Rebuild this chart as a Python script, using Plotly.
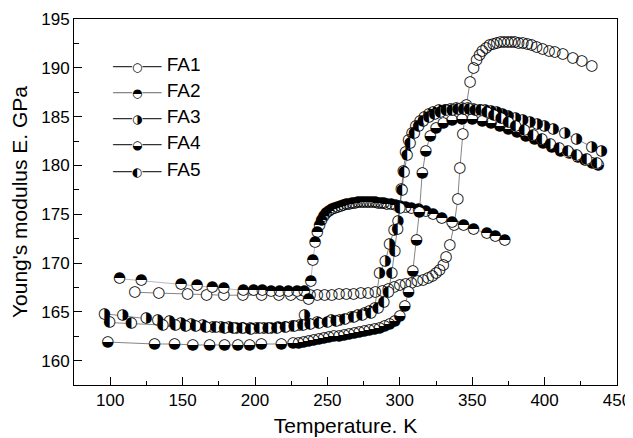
import plotly.graph_objects as go

# ---------------- data ----------------
names = ["FA1", "FA2", "FA3", "FA4", "FA5"]
glyphs = ["\u25CB", "\u25D3", "\u25D1", "\u25D2", "\u25D0"]

t_fa1 = [117, 133.5, 153.5, 166.6, 178.4, 191.5, 204.6, 216.4, 224.7, 232, 238, 243, 248, 253, 258,
         263, 268, 273, 278, 283, 288, 292, 296, 300, 304, 308, 312, 316, 319.5, 322.5, 325, 327.5,
         330, 332, 334.5, 337.5, 340, 341.5, 343.5, 346, 348.5, 351, 353, 355, 357, 359.5, 362,
         364.5, 367, 369.5, 372, 374.5, 377, 379.5, 382, 385, 388, 391, 394.5, 398.5, 403, 407,
         412.5, 419.5, 425.7, 432.6]
e_fa1 = [167.0, 166.9, 166.8, 166.7, 166.7, 166.7, 166.7, 166.7, 166.7, 166.7, 166.7, 166.7, 166.7,
         166.7, 166.8, 166.8, 166.8, 166.9, 166.9, 167.0, 167.1, 167.3, 167.5, 167.7, 167.8, 167.9,
         168.1, 168.2, 168.4, 168.6, 168.9, 169.3, 169.8, 170.6, 171.8, 173.9, 176.5, 179.7, 183.2,
         186.2, 188.5, 190.0, 190.8, 191.3, 191.7, 192.0, 192.3, 192.4, 192.5, 192.6, 192.6, 192.6,
         192.6, 192.6, 192.5, 192.5, 192.4, 192.3, 192.1, 191.9, 191.7, 191.6, 191.4, 191.0, 190.7,
         190.2]

t_fa2 = [106.5, 121.5, 149, 160, 170.5, 178.5, 192, 199, 205, 211, 217, 223, 229, 234, 237, 238.5,
         240, 241.5, 243, 244.5, 246, 247.5, 249, 251, 253, 255, 257, 259, 261, 263, 265, 267, 269,
         271, 273, 275, 277, 279, 281, 283, 285, 287, 289, 291, 294, 297, 300, 304, 308, 313, 318,
         323, 329, 336, 344, 351, 360, 366, 372.5]
e_fa2 = [168.4, 168.2, 167.8, 167.7, 167.5, 167.4, 167.2, 167.2, 167.2, 167.1, 167.1, 167.1, 167.1,
         167.1, 166.3, 168.1, 170.3, 172.1, 173.1, 173.9, 174.4, 174.8, 175.1, 175.3, 175.5, 175.6,
         175.7, 175.8, 175.9, 176.0, 176.0, 176.1, 176.1, 176.2, 176.2, 176.2, 176.2, 176.2, 176.2,
         176.2, 176.1, 176.1, 176.1, 176.0, 176.0, 175.9, 175.8, 175.7, 175.6, 175.5, 175.3, 175.0,
         174.6, 174.2, 173.9, 173.5, 173.0, 172.7, 172.3]

t_fa3 = [96.1, 108.7, 124.9, 132.9, 141, 149, 156, 164, 170.9, 176.7, 182, 187, 192, 197, 201, 206,
         211, 216, 221, 226, 231, 234.3, 243, 252.7, 258.5, 266.5, 271, 275.7, 279, 282.7, 286, 290,
         293, 296, 298.8, 301, 302.5, 304, 306, 308.5, 311, 314, 317, 320, 323, 327, 331, 335, 339,
         343, 347, 351, 355, 359, 363, 367, 371, 375, 380, 385, 390, 395, 400, 406, 414, 422, 432.6,
         439.3]
e_fa3 = [164.8, 164.6, 164.3, 164.1, 164.0, 163.8, 163.7, 163.6, 163.4, 163.4, 163.4, 163.3, 163.3,
         163.3, 163.3, 163.3, 163.3, 163.4, 163.4, 163.5, 163.6, 164.6, 163.9, 164.1, 164.1, 164.4,
         164.6, 164.9, 165.1, 165.4, 168.9, 170.2, 171.9, 173.4, 174.3, 177.6, 179.4, 181.3, 182.6,
         183.3, 184.0, 184.5, 184.9, 185.2, 185.4, 185.6, 185.7, 185.8, 185.9, 185.9, 185.9, 185.8,
         185.7, 185.6, 185.5, 185.4, 185.2, 185.0, 184.8, 184.6, 184.4, 184.2, 184.0, 183.7, 183.3,
         182.7, 181.9, 181.5]

t_fa4 = [98.3, 130.6, 144.4, 157.1, 168.6, 179, 188.2, 196.3, 204.4, 218.2, 226.2, 230, 233.5, 237,
         240.5, 244, 247.5, 251, 254.5, 258, 261.5, 265, 268.5, 272, 275.5, 279, 282.5, 286, 289.5,
         293, 296.5, 300, 303.5, 306, 309, 311.5, 313.5, 315.5, 318, 321, 325, 330, 336, 343, 350,
         357, 363, 369, 375, 381, 387, 393, 399, 405, 411, 417, 423, 428, 433, 437]
e_fa4 = [161.9, 161.7, 161.7, 161.6, 161.6, 161.6, 161.6, 161.6, 161.7, 161.7, 161.8, 161.8, 161.9,
         162.0, 162.1, 162.2, 162.3, 162.4, 162.5, 162.5, 162.6, 162.7, 162.8, 162.9, 163.0, 163.1,
         163.2, 163.3, 163.5, 163.7, 164.0, 164.5, 165.6, 167.0, 169.2, 172.3, 175.2, 179.2, 181.5,
         183.0, 183.8, 184.3, 184.6, 184.7, 184.7, 184.5, 184.3, 184.0, 183.7, 183.4, 183.0, 182.7,
         182.3, 181.9, 181.5, 181.2, 180.8, 180.5, 180.2, 180.0]

t_fa5 = [99.5, 114.5, 136.4, 145, 152, 159, 166, 173, 179, 185, 191, 197, 203, 209, 215, 221, 227,
         233, 238, 244, 250, 256, 262, 268, 274, 280, 285, 289, 292, 294.5, 296.5, 298.5, 300, 301.5,
         303, 305, 307, 310, 313, 316, 320, 324, 328, 332, 336, 340, 344, 348, 352, 356, 360, 365,
         370, 375, 380, 386, 392, 398, 404, 410, 416, 422, 429, 436]
e_fa5 = [163.9, 163.8, 163.6, 163.6, 163.5, 163.5, 163.4, 163.4, 163.3, 163.3, 163.3, 163.2, 163.3,
         163.3, 163.3, 163.4, 163.5, 163.6, 163.7, 163.8, 163.9, 164.0, 164.2, 164.4, 164.6, 164.9,
         165.4, 166.0, 167.0, 169.0, 171.2, 173.5, 175.6, 177.5, 179.3, 181.0, 182.3, 183.3, 184.0,
         184.5, 184.9, 185.2, 185.4, 185.6, 185.7, 185.8, 185.8, 185.8, 185.7, 185.6, 185.4, 185.1,
         184.8, 184.4, 184.0, 183.6, 183.1, 182.7, 182.2, 181.8, 181.4, 181.0, 180.6, 180.2]

x_ticks = [100, 150, 200, 250, 300, 350, 400, 450]
y_ticks = [160, 165, 170, 175, 180, 185, 190, 195]

series_t = [t_fa1, t_fa2, t_fa3, t_fa4, t_fa5]
series_e = [e_fa1, e_fa2, e_fa3, e_fa4, e_fa5]
line_colors = ["#333333", "#888888", "#333333", "#333333", "#333333"]

fig = go.Figure()
for name, g, tt, ee, lc in zip(names, glyphs, series_t, series_e, line_colors):
    fig.add_trace(go.Scatter(
        x=tt, y=ee, name=name, mode="lines+markers+text",
        text=[g] * len(tt), textposition="middle center",
        textfont=dict(family="DejaVu Sans", size=15, color="black"),
        marker=dict(color="white", size=11, line=dict(width=0)),
        line=dict(color=lc, width=0.6),
        showlegend=False, hoverinfo="skip",
    ))

# legend (built as text entries)
leg_y0 = 0.876
leg_dy = 0.0715
for i, (name, g, lc) in enumerate(zip(names, glyphs, line_colors)):
    fig.add_annotation(
        xref="paper", yref="paper", x=0.068, y=leg_y0 - i * leg_dy,
        xanchor="left", yanchor="middle", showarrow=False,
        text=(f"<span style='color:{lc}'>\u2014</span>"
              f"<span style='font-family:DejaVu Sans;font-size:12px'>{g}</span>"
              f"<span style='color:{lc}'>\u2014</span> {name}"),
        font=dict(family="Liberation Sans, Arial", size=19, color="black"),
    )

axis_common = dict(
    showline=True, linecolor="black", linewidth=1, mirror=True,
    ticks="inside", ticklen=8, tickwidth=1, tickcolor="black",
    showgrid=False, zeroline=False,
    tickfont=dict(family="Liberation Sans, Arial", size=17, color="black"),
)
fig.update_xaxes(
    range=[75, 450], tickvals=x_ticks, ticktext=[str(v) for v in x_ticks],
    minor=dict(ticks="inside", ticklen=4, tickwidth=1, tickcolor="black", dtick=25, tick0=75),
    title=dict(text="Temperature. K", font=dict(family="Liberation Sans, Arial", size=21, color="black"),
               standoff=8),
    **axis_common,
)
fig.update_yaxes(
    range=[157.5, 195], tickvals=y_ticks, ticktext=[str(v) for v in y_ticks],
    minor=dict(ticks="inside", ticklen=5, tickwidth=1, tickcolor="black", dtick=2.5, tick0=157.5),
    title=dict(text="Young's modulus E. GPa", font=dict(family="Liberation Sans, Arial", size=21, color="black"),
               standoff=10),
    **axis_common,
)
# the page body adds an 8 px offset, so the figure is 8 px smaller on each axis
fig.update_layout(
    width=625, height=430,
    margin=dict(l=66, r=16, t=11, b=53, autoexpand=False),
    paper_bgcolor="white", plot_bgcolor="white",
    showlegend=False,
)
fig.write_html("out.html")
